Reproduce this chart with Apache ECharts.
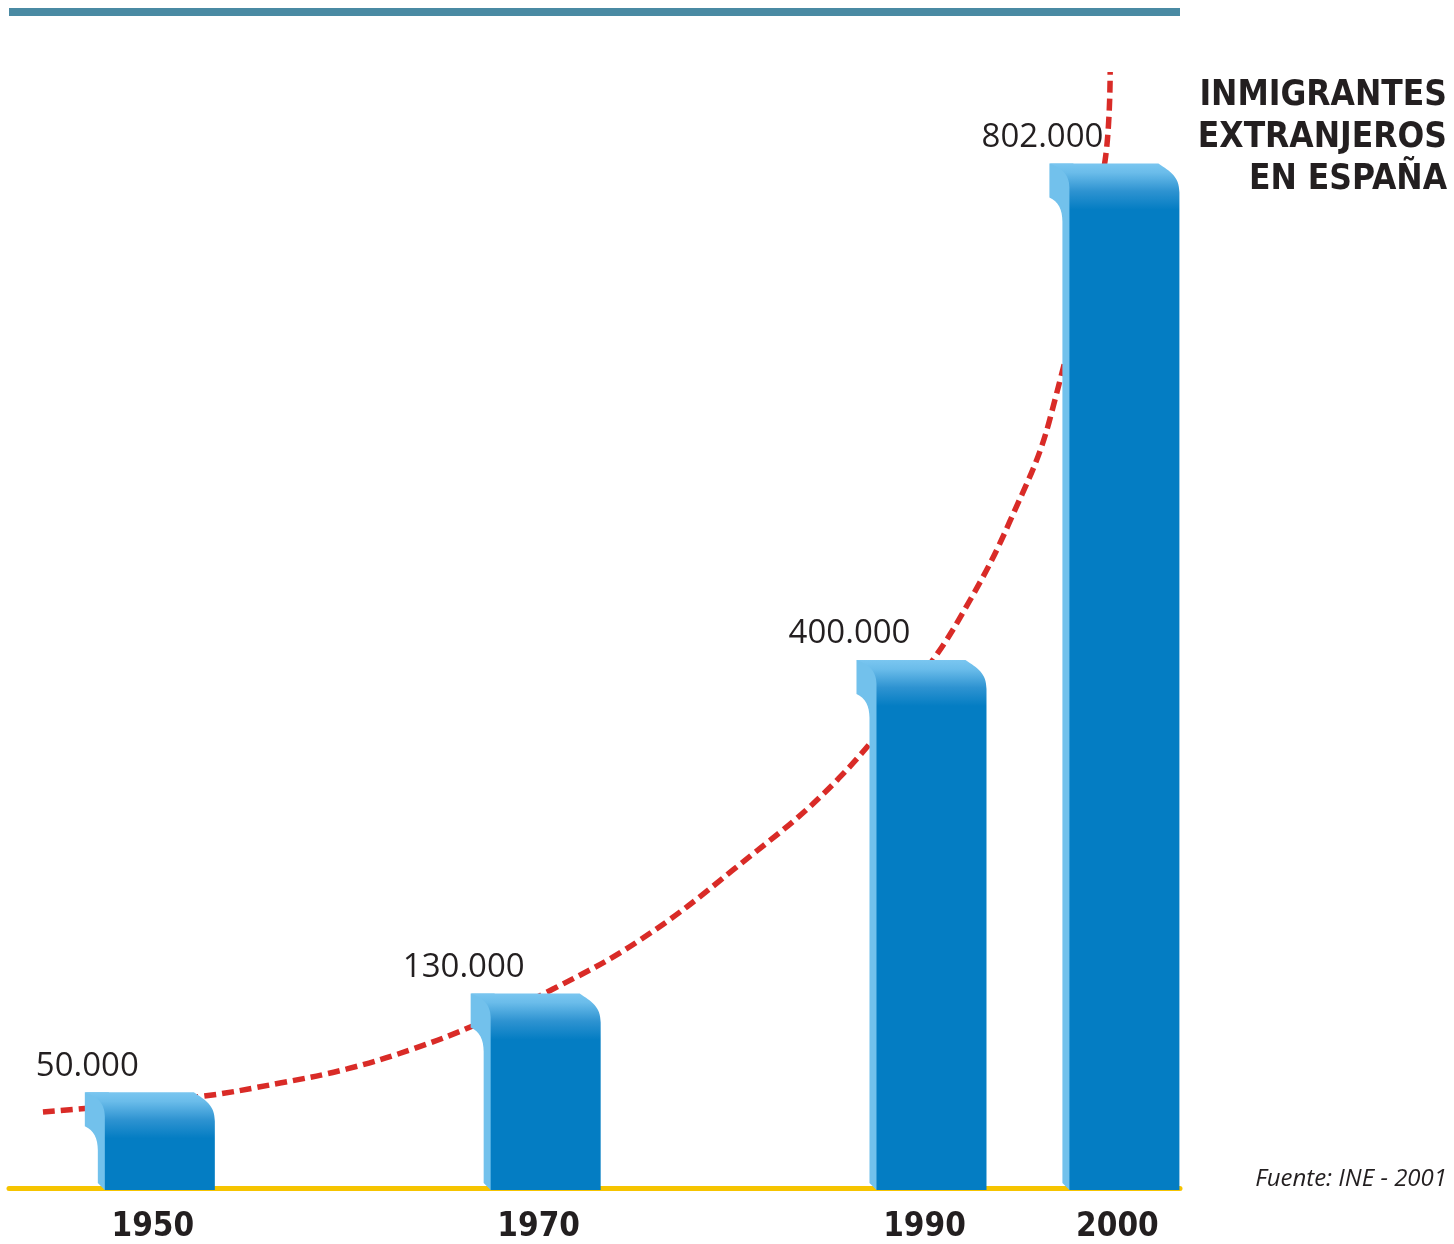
<!DOCTYPE html>
<html>
<head>
<meta charset="utf-8">
<title>Inmigrantes extranjeros en España</title>
<script src="https://cdn.jsdelivr.net/npm/echarts@6/dist/echarts.min.js"></script>
<style>
  html, body { margin: 0; padding: 0; background: #ffffff; }
  #chart { width: 1454px; height: 1244px; }
</style>
</head>
<body>
<div id="chart"></div>
<script>
// Census years and number of foreign immigrants
const years = [1950, 1970, 1990, 2000];
const immigrants = [50000, 130000, 400000, 802000];
const yearTicks = [1950, 1970, 1990, 2000];

// Dotted growth trend drawn behind the bars (year, persons)
const trendYears = [1944.46, 1952.45, 1956.75, 1960.22, 1963.64, 1966.86, 1971.0,
  1975.41, 1980.23, 1985.68, 1990.29, 1992.52, 1994.59, 1996.67, 1999.52, 1999.78];
const trendValues = [61500, 73700, 85000, 96400, 112600, 132000, 161900,
  200800, 257500, 331200, 421100, 476100, 540100, 623500, 832400, 903600];

const titleLines = ['INMIGRANTES', 'EXTRANJEROS', 'EN ESPAÑA'];
const sourceText = 'Fuente: INE - 2001';

const TEXT = '#231f20';
const FRONT = '#047dc3';
const SIDE = '#72c1ec';
const BAR_W = 130;   // full width of a bar incl. side face
const SIDE_W = 20;   // width of the light side face
const CAP = 34;      // height of the rolled cap above the value level

function fmt(v) {
  return String(v).replace(/\B(?=(\d{3})+(?!\d))/g, '.');
}

function renderBar(params, api) {
  const p = api.coord([api.value(0), api.value(1)]);
  const b = api.coord([api.value(0), 0]);
  const cx = p[0];
  const top = p[1] - CAP;
  const base = b[1] + 2;
  const x0 = cx - BAR_W / 2;
  const x1 = cx + BAR_W / 2;
  const xs = x0 + SIDE_W;

  // light side face; it reaches under the front face so no gap shows
  const sidePath =
    'M' + x0 + ',' + top +
    ' L' + (xs + 4) + ',' + top +
    ' L' + (xs + 4) + ',' + base +
    ' L' + xs + ',' + base +
    ' L' + (x0 + 13) + ',' + (base - 7) +
    ' L' + (x0 + 13) + ',' + (top + 58) +
    ' C' + (x0 + 13) + ',' + (top + 46) + ' ' + (x0 + 9) + ',' + (top + 38) + ' ' + x0 + ',' + (top + 34) +
    ' Z';

  const frontPath =
    'M' + x0 + ',' + top +
    ' L' + (x1 - 21) + ',' + top +
    ' C' + (x1 - 9) + ',' + (top + 8) + ' ' + x1 + ',' + (top + 13) + ' ' + x1 + ',' + (top + 29) +
    ' L' + x1 + ',' + base +
    ' L' + xs + ',' + base +
    ' L' + xs + ',' + (top + 24) +
    ' C' + xs + ',' + (top + 10) + ' ' + (x0 + 11) + ',' + (top + 4) + ' ' + x0 + ',' + top + ' Z';

  const capGradient = new echarts.graphic.LinearGradient(0, top, 0, top + 46, [
    { offset: 0, color: '#7ac6f0' },
    { offset: 0.2, color: '#6abcea' },
    { offset: 0.6, color: '#2e93d1' },
    { offset: 1, color: FRONT }
  ], true);

  return {
    type: 'group',
    children: [
      { type: 'path', shape: { pathData: sidePath }, style: { fill: SIDE } },
      { type: 'path', shape: { pathData: frontPath }, style: { fill: capGradient } },
      {
        type: 'text',
        x: cx - 11,
        y: top - 26,
        style: {
          text: fmt(api.value(1)),
          align: 'right',
          verticalAlign: 'middle',
          fontFamily: '"Open Sans", "Noto Sans", sans-serif',
          fontSize: 33,
          fill: TEXT
        }
      }
    ]
  };
}

const chart = echarts.init(document.getElementById('chart'), null, { renderer: 'canvas' });

chart.setOption({
  animation: false,
  backgroundColor: '#ffffff',
  grid: { left: 9, right: 274, top: 51.8, bottom: 56 },
  xAxis: {
    type: 'value',
    min: 1942.7,
    max: 2003.4,
    splitLine: { show: false },
    axisTick: { show: false },
    axisLine: { show: true, onZero: false, lineStyle: { color: '#f6c400', width: 5 } },
    axisLabel: {
      customValues: yearTicks,
      margin: 23,
      padding: [0, 0, 0, 6],
      color: TEXT,
      fontFamily: '"DejaVu Sans Condensed", "DejaVu Sans", sans-serif',
      fontWeight: 'bold',
      fontSize: 33,
      formatter: v => String(v)
    }
  },
  yAxis: {
    type: 'value',
    min: 0,
    max: 920000,
    show: false
  },
  graphic: [
    { type: 'rect', left: 9, top: 8, shape: { width: 1171, height: 8 }, style: { fill: '#4a8aa3' } },
    ...titleLines.map((t, i) => ({
      type: 'text',
      x: 1447,
      y: 96 + i * 42,
      style: {
        text: t,
        align: 'right',
        verticalAlign: 'middle',
        fontFamily: '"DejaVu Sans Condensed", "DejaVu Sans", sans-serif',
        fontWeight: 'bold',
        fontSize: 35,
        fill: TEXT
      }
    })),
    {
      type: 'text',
      x: 1447,
      y: 1179,
      style: {
        text: sourceText,
        align: 'right',
        verticalAlign: 'middle',
        fontFamily: '"Open Sans", "Noto Sans", sans-serif',
        fontStyle: 'italic',
        fontSize: 24,
        fill: TEXT
      }
    }
  ],
  series: [
    {
      type: 'line',
      data: trendYears.map((y, i) => [y, trendValues[i]]),
      smooth: 0.4,
      showSymbol: false,
      clip: false,
      z: 1,
      lineStyle: { color: '#d92b27', width: 5.5, type: [12, 6], cap: 'butt' }
    },
    {
      type: 'custom',
      renderItem: renderBar,
      data: years.map((y, i) => [y, immigrants[i]]),
      clip: false,
      z: 3
    }
  ]
});
</script>
</body>
</html>
